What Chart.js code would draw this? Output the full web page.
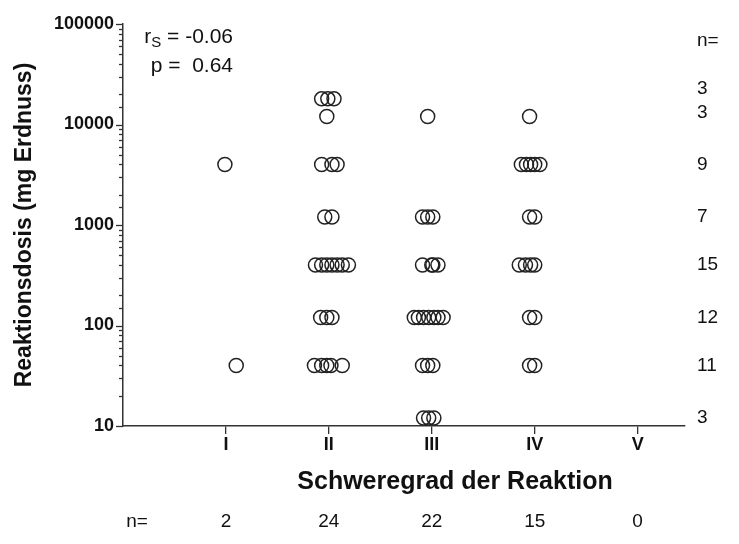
<!DOCTYPE html>
<html>
<head>
<meta charset="utf-8">
<script src="https://cdn.jsdelivr.net/npm/chart.js@4.4.1/dist/chart.umd.min.js"></script>
<style>
  html, body { margin: 0; padding: 0; background: #fff; }
  #wrap { width: 739px; height: 544px; position: relative; }
</style>
</head>
<body>
<div id="wrap"><canvas id="chart" width="739" height="544"></canvas></div>
<script>
// DATA
const categories = ["I", "II", "III", "IV", "V"];
const groupN = [2, 24, 22, 15, 0];

// dose rows on the right side and their counts
const doseRows = [18000, 12000, 4000, 1200, 400, 120, 40, 12];
const rowN = [3, 3, 9, 7, 15, 12, 11, 3];

// points: [x position (category + jitter), dose in mg]
const gradeI = [[0.99, 4000], [1.10, 40]];
const gradeII = [
  [1.93, 18000], [1.99, 18000], [2.05, 18000],
  [1.98, 12000],
  [1.93, 4000], [2.03, 4000], [2.08, 4000],
  [1.96, 1200], [2.03, 1200],
  [1.87, 400], [1.93, 400], [1.98, 400], [2.03, 400], [2.08, 400], [2.13, 400], [2.19, 400],
  [1.92, 120], [1.98, 120], [2.03, 120],
  [1.86, 40], [1.93, 40], [1.98, 40], [2.02, 40], [2.13, 40]
];
const gradeIII = [
  [2.96, 12000],
  [2.91, 1200], [2.96, 1200], [3.01, 1200],
  [2.91, 400], [3.00, 400], [3.01, 400], [3.06, 400],
  [2.83, 120], [2.87, 120], [2.92, 120], [2.97, 120], [3.02, 120], [3.06, 120], [3.11, 120],
  [2.91, 40], [2.96, 40], [3.01, 40],
  [2.92, 12], [2.97, 12], [3.02, 12]
];
const gradeIV = [
  [3.95, 12000],
  [3.87, 4000], [3.92, 4000], [3.96, 4000], [4.00, 4000], [4.05, 4000],
  [3.95, 1200], [4.00, 1200],
  [3.85, 400], [3.91, 400], [3.96, 400], [4.00, 400],
  [3.95, 120], [4.00, 120],
  [3.95, 40], [4.00, 40]
];

const FONT = "'Liberation Sans', Arial, sans-serif";
const INK = "#111";
const LINE = "#333";

function toPoints(arr) {
  return arr.map(p => ({ x: p[0], y: p[1] }));
}

function isDecade(v) {
  const l = Math.log10(v);
  return Math.abs(l - Math.round(l)) < 1e-9;
}

// y axis tick marks (long for decades, short for minor ones)
const logTicks = {
  id: "logTicks",
  afterDraw(chart) {
    const ctx = chart.ctx;
    const y = chart.scales.y;
    const left = chart.chartArea.left;
    ctx.save();
    ctx.strokeStyle = LINE;
    ctx.lineWidth = 1.3;
    y.ticks.forEach(t => {
      const py = Math.round(y.getPixelForValue(t.value)) + 0.5;
      const len = isDecade(t.value) ? 7 : 4;
      ctx.beginPath();
      ctx.moveTo(left - len, py);
      ctx.lineTo(left, py);
      ctx.stroke();
    });
    ctx.restore();
  }
};

// TEXT ANNOTATIONS
const notes = {
  id: "notes",
  afterDraw(chart) {
    const ctx = chart.ctx;
    const x = chart.scales.x;
    const y = chart.scales.y;
    ctx.save();
    ctx.fillStyle = INK;
    ctx.textBaseline = "middle";

    // x axis title
    ctx.font = "bold 25px " + FONT;
    ctx.textAlign = "center";
    ctx.fillText("Schweregrad der Reaktion", 455, 482);

    // spearman box
    ctx.font = "21px " + FONT;
    const rest = " = -0.06";
    const wRest = ctx.measureText(rest).width;
    ctx.font = "15px " + FONT;
    const wSub = ctx.measureText("S").width;
    ctx.font = "21px " + FONT;
    const wR = ctx.measureText("r").width;
    const right = 233;
    let px = right - wRest - wSub - wR;
    ctx.textAlign = "left";
    ctx.fillText("r", px, 37);
    ctx.font = "15px " + FONT;
    ctx.fillText("S", px + wR, 43);
    ctx.font = "21px " + FONT;
    ctx.fillText(rest, px + wR + wSub, 37);
    ctx.textAlign = "right";
    ctx.fillText("p =  0.64", right, 66);

    // right column counts
    ctx.font = "19px " + FONT;
    ctx.textAlign = "left";
    ctx.fillText("n=", 697, 41);
    doseRows.forEach((d, i) => {
      const nudge = i === 0 ? -10 : (i === 1 ? -4 : 0);
      ctx.fillText(String(rowN[i]), 697, y.getPixelForValue(d) + nudge);
    });

    // bottom row counts
    ctx.textAlign = "center";
    ctx.fillText("n=", 137, 522);
    groupN.forEach((n, i) => {
      ctx.fillText(String(n), x.getPixelForValue(i + 1), 522);
    });
    ctx.restore();
  }
};

const pointStyle = {
  type: "scatter",
  pointStyle: "circle",
  pointRadius: 7,
  pointBorderWidth: 1.5,
  borderColor: "#222",
  backgroundColor: "rgba(0,0,0,0)",
  clip: false
};

new Chart(document.getElementById("chart"), {
  type: "scatter",
  data: {
    datasets: [
      { label: "I", data: toPoints(gradeI), ...pointStyle },
      { label: "II", data: toPoints(gradeII), ...pointStyle },
      { label: "III", data: toPoints(gradeIII), ...pointStyle },
      { label: "IV", data: toPoints(gradeIV), ...pointStyle }
    ]
  },
  options: {
    responsive: false,
    animation: false,
    layout: { padding: { top: 24, right: 54, bottom: 0, left: 0 } },
    plugins: {
      legend: { display: false },
      tooltip: { enabled: false }
    },
    scales: {
      x: {
        type: "linear",
        min: 0,
        max: 5.46,
        afterBuildTicks: s => { s.ticks = categories.map((c, i) => ({ value: i + 1 })); },
        afterFit: s => { s.height = 118; },
        ticks: {
          autoSkip: false,
          padding: 0,
          color: INK,
          font: { family: FONT, size: 18, weight: "bold" },
          callback: v => categories[v - 1] || ""
        },
        grid: {
          drawOnChartArea: false,
          drawTicks: true,
          tickLength: 8,
          color: LINE,
          lineWidth: 1.3
        },
        border: { display: true, color: LINE, width: 1.5 }
      },
      y: {
        type: "logarithmic",
        min: 10,
        max: 100000,
        afterFit: s => { s.width = 123; },
        ticks: {
          autoSkip: false,
          padding: 1,
          color: INK,
          font: { family: FONT, size: 18, weight: "bold" },
          callback: v => isDecade(v) ? String(Math.round(v)) : ""
        },
        grid: { display: false },
        border: { display: true, color: LINE, width: 1.5 },
        title: {
          display: true,
          text: "Reaktionsdosis (mg Erdnuss)",
          color: INK,
          font: { family: FONT, size: 23, weight: "bold" },
          padding: { top: 11, bottom: 0 }
        }
      }
    }
  },
  plugins: [logTicks, notes]
});
</script>
</body>
</html>
